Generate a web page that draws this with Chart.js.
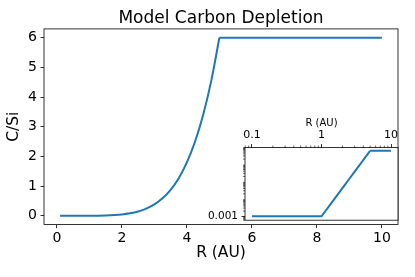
<!DOCTYPE html>
<html><head><meta charset="utf-8">
<script src="https://cdn.jsdelivr.net/npm/chart.js@4/dist/chart.umd.min.js"></script>
<style>
html,body{margin:0;padding:0;background:#fff;}
#wrap{position:relative;width:415px;height:277px;overflow:hidden;}
#main{position:absolute;left:0;top:0;}
#inset{position:absolute;left:195px;top:105px;}
</style></head><body>
<div id="wrap"><canvas id="main" width="415" height="277"></canvas><canvas id="inset" width="220" height="125"></canvas></div>
<script>
// Data (R in AU, C/Si ratio)
const CURVE_R   = [0.1, 0.5, 1.0, 1.5, 2.0, 2.25, 2.5, 2.75, 3.0, 3.25, 3.5, 3.75, 4.0, 4.25, 4.5, 4.75, 5.0];
const CURVE_CSI = [0.001, 0.001, 0.001, 0.009, 0.042, 0.080, 0.142, 0.237, 0.379, 0.585, 0.873, 1.267, 1.796, 2.493, 3.395, 4.547, 6.0];
const FLAT_R    = [5.0, 6.0, 7.0, 8.0, 9.0, 10.0];
const FLAT_CSI  = [6.0, 6.0, 6.0, 6.0, 6.0, 6.0];

const X_TICKS = [0, 2, 4, 6, 8, 10];
const Y_TICKS = [0, 1, 2, 3, 4, 5, 6];
const INSET_X_TICKS = [0.1, 1, 10];
const INSET_X_LABELS = ['0.1', '1', '10'];
const INSET_Y_TICKS = [0.001];
const INSET_Y_LABELS = ['0.001'];

const FONT = 'DejaVu Sans';
const BLUE = '#1f77b4';
const pts = (xs, ys) => xs.map((x, i) => ({x: x, y: ys[i]}));

const framePlugin = {
  id: 'frame',
  afterDraw(chart) {
    const a = chart.chartArea, c = chart.ctx;
    c.save(); c.strokeStyle = '#000'; c.lineWidth = 0.8;
    c.strokeRect(a.left, a.top, a.right - a.left, a.bottom - a.top);
    c.restore();
  }
};

new Chart(document.getElementById('main'), {
  type: 'line',
  data: { datasets: [
    { data: pts(CURVE_R, CURVE_CSI), borderColor: BLUE, borderWidth: 2, pointRadius: 0, cubicInterpolationMode: 'monotone', fill: false },
    { data: pts(FLAT_R, FLAT_CSI), borderColor: BLUE, borderWidth: 2, pointRadius: 0, tension: 0, fill: false }
  ]},
  options: {
    responsive: false, animation: false, devicePixelRatio: 1,
    layout: { padding: { left: 0, right: 17, top: 0, bottom: 0 } },
    plugins: {
      legend: { display: false }, tooltip: { enabled: false },
      title: { display: true, fullSize: false, text: 'Model Carbon Depletion', color: '#000',
               font: { family: FONT, size: 17, weight: 'normal' }, padding: { top: 8.5, bottom: 0 } }
    },
    scales: {
      x: { type: 'linear', min: -0.395, max: 10.495,
           afterBuildTicks: s => { s.ticks = X_TICKS.map(v => ({ value: v })); },
           afterFit: s => { s.height = 52.4; },
           ticks: { font: { family: FONT, size: 14 }, color: '#000', padding: 1.5, maxRotation: 0, autoSkip: false, callback: v => String(v) },
           grid: { display: true, drawOnChartArea: false, drawTicks: true, tickLength: 3.5, color: '#000', lineWidth: 0.8 },
           border: { display: false },
           title: { display: true, text: 'R (AU)', color: '#000', font: { family: FONT, size: 15.5 }, padding: { top: 0, bottom: 14.5 } } },
      y: { type: 'linear', min: -0.3, max: 6.3,
           afterBuildTicks: s => { s.ticks = Y_TICKS.map(v => ({ value: v })); },
           afterFit: s => { s.width = 44; },
           ticks: { font: { family: FONT, size: 14 }, color: '#000', padding: 3.5, autoSkip: false, callback: v => String(v) },
           grid: { display: true, drawOnChartArea: false, drawTicks: true, tickLength: 3.5, color: '#000', lineWidth: 0.8 },
           border: { display: false },
           title: { display: true, text: 'C/Si', color: '#000', font: { family: FONT, size: 15.5 }, padding: { top: 5, bottom: 0 } } }
    }
  },
  plugins: [framePlugin]
});

const insetPlugin = {
  id: 'insetDeco',
  beforeDraw(chart) {
    const a = chart.chartArea, c = chart.ctx;
    c.save(); c.fillStyle = '#fff';
    c.fillRect(a.left, a.top, a.right - a.left, a.bottom - a.top);
    c.restore();
  },
  afterDraw(chart) {
    const a = chart.chartArea, c = chart.ctx;
    const xs = chart.scales.x, ys = chart.scales.y;
    c.save(); c.strokeStyle = '#000'; c.lineWidth = 0.6;
    c.beginPath();
    for (let e = -2; e <= 1; e++) for (let k = 2; k <= 9; k++) {
      const v = k * Math.pow(10, e);
      if (v < xs.min || v > xs.max) continue;
      const px = xs.getPixelForValue(v);
      c.moveTo(px, a.top); c.lineTo(px, a.top - 2);
    }
    for (let e = -4; e <= 0; e++) for (let k = 2; k <= 9; k++) {
      const v = k * Math.pow(10, e);
      if (v < ys.min || v > ys.max) continue;
      const py = ys.getPixelForValue(v);
      c.moveTo(a.left, py); c.lineTo(a.left - 2, py);
    }
    c.stroke();
    c.lineWidth = 0.8;
    c.strokeRect(a.left, a.top, a.right - a.left, a.bottom - a.top);
    c.restore();
  }
};

new Chart(document.getElementById('inset'), {
  type: 'line',
  data: { datasets: [
    { data: pts(CURVE_R, CURVE_CSI), borderColor: BLUE, borderWidth: 2, pointRadius: 0, tension: 0, fill: false },
    { data: pts(FLAT_R, FLAT_CSI), borderColor: BLUE, borderWidth: 2, pointRadius: 0, tension: 0, fill: false }
  ]},
  options: {
    responsive: false, animation: false, devicePixelRatio: 1,
    layout: { padding: { left: 0, right: 17, top: 0, bottom: 5.4 } },
    plugins: { legend: { display: false }, tooltip: { enabled: false }, title: { display: false } },
    scales: {
      x: { type: 'logarithmic', position: 'top', min: Math.pow(10, -1.1), max: Math.pow(10, 1.1),
           afterBuildTicks: s => { s.ticks = INSET_X_TICKS.map(v => ({ value: v, major: true })); },
           afterFit: s => { s.height = 42.5; },
           ticks: { font: { family: FONT, size: 11 }, color: '#000', padding: 2.3, maxRotation: 0, autoSkip: false,
                    callback: (v, i) => INSET_X_LABELS[i] },
           grid: { display: true, drawOnChartArea: false, drawTicks: true, tickLength: 3.5, color: '#000', lineWidth: 0.8 },
           border: { display: false },
           title: { display: true, text: 'R (AU)', color: '#000', font: { family: FONT, size: 10 }, padding: { top: 12.5, bottom: 0 } } },
      y: { type: 'logarithmic', min: Math.pow(10, -3.189), max: Math.pow(10, 0.967),
           afterBuildTicks: s => { s.ticks = INSET_Y_TICKS.map(v => ({ value: v, major: true })); },
           afterFit: s => { s.width = 50; },
           ticks: { font: { family: FONT, size: 10.5 }, color: '#000', padding: 3.5, autoSkip: false,
                    callback: (v, i) => INSET_Y_LABELS[i] },
           grid: { display: true, drawOnChartArea: false, drawTicks: true, tickLength: 3.5, color: '#000', lineWidth: 0.8 },
           border: { display: false } }
    }
  },
  plugins: [insetPlugin]
});
</script>
</body></html>
